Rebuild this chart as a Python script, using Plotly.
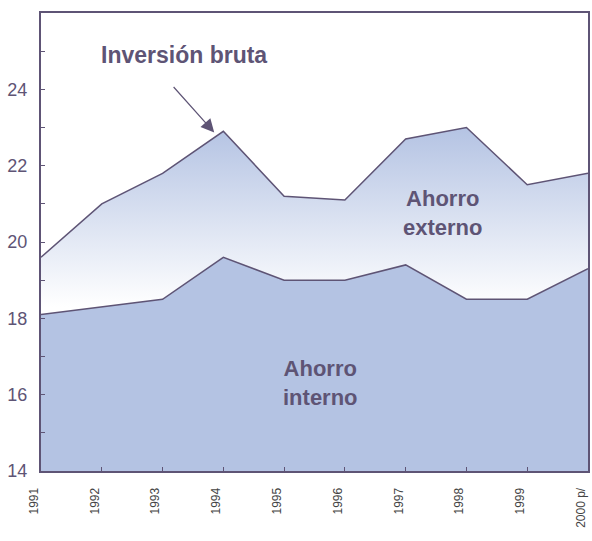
import plotly.graph_objects as go

years = [1991, 1992, 1993, 1994, 1995, 1996, 1997, 1998, 1999, 2000]
year_labels = ["1991", "1992", "1993", "1994", "1995", "1996", "1997", "1998", "1999", "2000 p/"]
inversion_bruta = [19.6, 21.0, 21.8, 22.9, 21.2, 21.1, 22.7, 23.0, 21.5, 21.8]
ahorro_interno = [18.1, 18.3, 18.5, 19.6, 19.0, 19.0, 19.4, 18.5, 18.5, 19.3]

LINE = "#5e5475"
BLUE = "#b4c3e3"
FONT = "Liberation Sans, Arial"

fig = go.Figure()
fig.add_trace(go.Scatter(
    x=years, y=ahorro_interno, mode="lines",
    line=dict(color=LINE, width=1.5),
    fill="tozeroy", fillcolor=BLUE, hoverinfo="skip", showlegend=False))
fig.add_trace(go.Scatter(
    x=years, y=inversion_bruta, mode="lines",
    line=dict(color=LINE, width=1.5),
    fill="tonexty",
    fillgradient=dict(type="vertical", start=18.3, stop=23.0,
                      colorscale=[[0, "#ffffff"], [1, BLUE]]),
    hoverinfo="skip", showlegend=False))

fig.add_annotation(x=1993.35, y=24.9, text="<b>Inversión bruta</b>", showarrow=False,
                   font=dict(size=23, color=LINE, family=FONT))
fig.add_annotation(x=1993.85, y=22.87, ax=1993.16, ay=24.1, axref="x", ayref="y",
                   text="", showarrow=True, arrowhead=2, arrowsize=2.2,
                   arrowwidth=1.2, arrowcolor=LINE, standoff=0)
fig.add_annotation(x=1997.6, y=20.76, text="<b>Ahorro<br>externo</b>", showarrow=False,
                   font=dict(size=22, color=LINE, family=FONT))
fig.add_annotation(x=1995.6, y=16.3, text="<b>Ahorro<br>interno</b>", showarrow=False,
                   font=dict(size=22, color=LINE, family=FONT))

fig.update_layout(
    width=592, height=541,
    margin=dict(l=41, r=4, t=13, b=70),
    paper_bgcolor="white", plot_bgcolor="white",
    font=dict(family=FONT, color=LINE),
)
fig.update_xaxes(
    range=[1991, 2000], tickvals=years, ticktext=year_labels,
    tickangle=-90, tickfont=dict(size=12, color="#444444"),
    ticklabelshift=-7, ticklabelstandoff=10, automargin=False,
    showgrid=False, zeroline=False,
    showline=True, linecolor=LINE, linewidth=2, mirror=True,
    ticks="inside", ticklen=4, tickcolor=LINE,
)
fig.update_yaxes(
    range=[14, 26], tickvals=[14, 16, 18, 20, 22, 24],
    tickfont=dict(size=18, color=LINE), automargin=False,
    ticklabelstandoff=8,
    showgrid=False, zeroline=False,
    showline=True, linecolor=LINE, linewidth=2, mirror=True,
    ticks="inside", ticklen=4, tickcolor=LINE,
    minor=dict(tickvals=[15, 17, 19, 21, 23, 25], ticks="inside", ticklen=4, tickcolor=LINE),
)

fig.write_html("out.html", config={"displayModeBar": False},
               post_script="document.body.style.margin='0';document.body.style.overflow='hidden';")
